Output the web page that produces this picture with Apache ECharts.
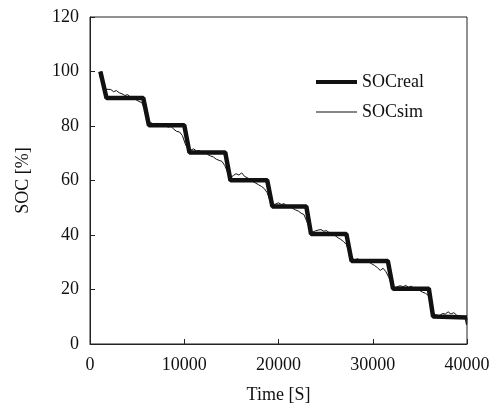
<!DOCTYPE html>
<html>
<head>
<meta charset="utf-8">
<script src="https://cdn.jsdelivr.net/npm/echarts@6/dist/echarts.min.js"></script>
<style>html,body{margin:0;padding:0;background:#fff}#c{width:494px;height:409px}</style>
</head>
<body>
<div id="c"></div>
<script>
const xTicks = [0, 10000, 20000, 30000, 40000];
const yTicks = [0, 20, 40, 60, 80, 100, 120];

const socRealTime = [1100, 1750, 5650, 6250, 10000, 10550, 14350, 14900, 18800, 19350, 22950, 23450, 27200, 27750, 31600, 32150, 35950, 36400, 40000];
const socRealValue = [100, 90.3, 90.3, 80.3, 80.3, 70.3, 70.3, 60.1, 60.1, 50.5, 50.5, 40.4, 40.4, 30.5, 30.5, 20.3, 20.3, 10.1, 9.7];

const socSimTime = [1050,1150,1250,1400,1550,1700,1900,2200,2500,2800,3100,3400,3700,4000,4300,4600,4900,5200,5500,5750,6000,6250,
  6500,6800,7100,7400,7700,8000,8300,8600,8900,9200,9500,9800,10100,10400,
  10700,11000,11300,11600,11900,12200,12500,12800,13100,13400,13700,14000,14300,14600,14900,
  15200,15500,15800,16100,16400,16700,17000,17300,17600,17900,18200,18500,18800,19100,19400,
  19700,20000,20300,20600,20900,21200,21500,21800,22100,22400,22700,23000,23300,23600,
  23900,24200,24500,24800,25100,25400,25700,26000,26300,26600,26900,27200,27500,27800,
  28100,28400,28700,29000,29300,29600,29900,30200,30500,30800,31100,31400,31700,32000,
  32300,32600,32900,33200,33500,33800,34100,34400,34700,35000,35300,35600,35900,36200,36500,
  36800,37100,37400,37700,38000,38300,38600,38900,39200,39500,39800,39950,40000];
const socSimValue = [98,100,98.5,95,92,93.5,92.8,93.4,92.6,93.0,92.2,91.8,91.2,91.5,90.6,90.2,89.6,89.0,88.6,86.5,83.5,81.0,
  81.2,80.6,81.0,80.4,80.8,80.0,79.6,79.8,78.8,78.0,77.8,76.5,73.5,71.5,
  71.2,71.6,70.8,71.0,70.2,70.4,69.5,69.0,68.6,67.8,67.4,67.0,65.5,63.0,61.0,
  61.8,62.5,62.0,62.8,61.5,61.0,60.4,59.6,59.0,58.4,57.8,57.0,55.5,52.5,51.0,
  51.4,51.8,51.2,51.5,50.6,50.4,49.8,49.2,48.8,48.0,47.5,45.0,42.5,41.0,
  41.5,41.8,42.0,41.4,41.6,40.8,40.2,39.8,39.0,38.4,37.6,36.5,33.5,31.5,
  30.8,31.3,30.6,31.0,30.4,30.0,29.4,28.8,28.0,27.0,27.8,26.5,24.5,21.8,
  20.6,21.0,21.4,21.0,21.5,20.8,21.2,20.4,20.0,19.6,19.0,18.6,17.8,14.5,11.0,
  10.6,10.4,11.2,11.0,11.8,11.0,11.5,10.6,10.2,9.8,9.4,7.0,9.5];

const realData = socRealTime.map((t, i) => [t, socRealValue[i]]);
const simData = socSimTime.map((t, i) => [t, socSimValue[i]]);

const FONT = 'Liberation Serif';
const chart = echarts.init(document.getElementById('c'), null, {renderer: 'canvas'});
chart.setOption({
  animation: false,
  backgroundColor: '#fff',
  grid: {left: 90, right: 27, top: 17, bottom: 63, show: true, borderColor: '#222', borderWidth: 1, backgroundColor: 'transparent'},
  legend: [
    {data: ['SOCreal'], icon: 'rect', itemWidth: 41, itemHeight: 4, itemGap: 5, left: 311, top: 68,
     textStyle: {fontFamily: FONT, fontSize: 18, color: '#111'}},
    {data: ['SOCsim'], icon: 'rect', itemWidth: 41, itemHeight: 1, itemGap: 5, left: 311, top: 98,
     textStyle: {fontFamily: FONT, fontSize: 18, color: '#111'}}
  ],
  xAxis: {
    type: 'value', min: xTicks[0], max: xTicks[xTicks.length - 1], interval: 10000,
    name: 'Time [S]', nameLocation: 'middle', nameGap: 42,
    nameTextStyle: {fontFamily: FONT, fontSize: 18, color: '#111'},
    axisLine: {lineStyle: {color: '#222', width: 1}},
    axisTick: {inside: true, length: 5, lineStyle: {color: '#222'}},
    axisLabel: {fontFamily: FONT, fontSize: 18, color: '#111', margin: 12, formatter: v => String(v)},
    splitLine: {show: false}
  },
  yAxis: {
    type: 'value', min: yTicks[0], max: yTicks[yTicks.length - 1], interval: 20,
    name: 'SOC [%]', nameLocation: 'middle', nameGap: 58,
    nameTextStyle: {fontFamily: FONT, fontSize: 18, color: '#111'},
    axisLine: {show: true, lineStyle: {color: '#222', width: 1}},
    axisTick: {show: true, inside: true, length: 5, lineStyle: {color: '#222'}},
    axisLabel: {fontFamily: FONT, fontSize: 18, color: '#111', margin: 11, formatter: v => String(v)},
    splitLine: {show: false}
  },
  series: [
    {name: 'SOCreal', type: 'line', data: realData, showSymbol: false, symbol: 'none',
     lineStyle: {color: '#111', width: 4.5}, itemStyle: {color: '#111'}},
    {name: 'SOCsim', type: 'line', data: simData, showSymbol: false, symbol: 'none',
     lineStyle: {color: '#111', width: 1}, itemStyle: {color: '#111'}}
  ]
});
</script>
</body>
</html>
